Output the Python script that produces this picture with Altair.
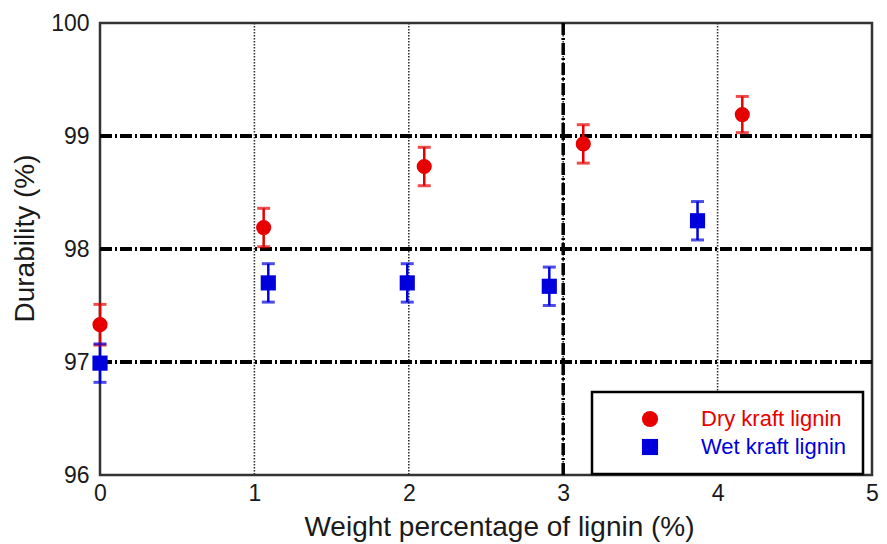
import altair as alt
import pandas as pd

series = ["Dry kraft lignin", "Wet kraft lignin"]
colors = ["#e60000", "#0000dd"]
shapes = ["circle", "square"]

dry_x = [0.0, 1.06, 2.10, 3.13, 4.16]
dry_y = [97.33, 98.19, 98.73, 98.93, 99.19]
dry_err = [0.18, 0.17, 0.17, 0.17, 0.16]

wet_x = [0.0, 1.09, 1.99, 2.91, 3.87]
wet_y = [96.99, 97.70, 97.70, 97.67, 98.25]
wet_err = [0.17, 0.17, 0.17, 0.17, 0.17]

x_ticks = [0, 1, 2, 3, 4, 5]
y_ticks = [96, 97, 98, 99, 100]
h_grid = [97, 98, 99]
v_grid = [1, 2, 3, 4]
heavy_v = [3]

rows = []
for name, xs, ys, es in [(series[0], dry_x, dry_y, dry_err), (series[1], wet_x, wet_y, wet_err)]:
    for x, y, e in zip(xs, ys, es):
        rows.append({"series": name, "x": x, "y": y, "lo": y - e, "hi": y + e})
df = pd.DataFrame(rows)

FONT = "Liberation Sans"
TXT = "#1a1a1a"

xscale = alt.Scale(domain=[0, 5], nice=False, zero=False)
yscale = alt.Scale(domain=[96, 100], nice=False, zero=False)

xaxis = alt.Axis(values=x_ticks, grid=False, ticks=False, domain=False,
                 labelFont=FONT, labelFontSize=23, labelColor=TXT, labelPadding=7,
                 labelFlush=False,
                 title="Weight percentage of lignin (%)", titleFont=FONT,
                 titleFontSize=28, titleFontWeight="normal", titleColor=TXT,
                 titleBaseline="alphabetic", titleX=399, titleY=60)
yaxis = alt.Axis(values=y_ticks, grid=False, ticks=False, domain=False,
                 labelFont=FONT, labelFontSize=23, labelColor=TXT, labelPadding=11,
                 labelFlush=False,
                 title="Durability (%)", titleFont=FONT, titleFontSize=28,
                 titleFontWeight="normal", titleColor=TXT,
                 titleBaseline="alphabetic", titleX=-67, titleY=215)


def X(field):
    return alt.X(f"{field}:Q", scale=xscale, axis=xaxis, title="Weight percentage of lignin (%)")


def Y(field):
    return alt.Y(f"{field}:Q", scale=yscale, axis=yaxis, title="Durability (%)")


vgrid = alt.Chart(pd.DataFrame({"v": v_grid})).mark_rule(
    color="#333333", strokeWidth=1.6, strokeDash=[1.5, 1.5]
).encode(x=X("v"))

vheavy = alt.Chart(pd.DataFrame({"v": heavy_v})).mark_rule(
    color="#000000", strokeWidth=3.5, strokeDash=[12, 3, 2, 3]
).encode(x=X("v"))

hgrid = alt.Chart(pd.DataFrame({"h": h_grid})).mark_rule(
    color="#000000", strokeWidth=4, strokeDash=[12, 3, 2, 3]
).encode(y=Y("h"))

cscale = alt.Scale(domain=series, range=colors)
sscale = alt.Scale(domain=series, range=shapes)

legend = alt.Legend(
    title=None, orient="none", legendX=492, legendY=369,
    padding=16, fillColor="white", strokeColor="black",
    symbolOffset=31, labelOffset=40, rowPadding=6,
    labelFont=FONT, labelFontSize=22, symbolSize=260, symbolStrokeWidth=0,
    symbolOpacity=1,
    labelColor={"expr": "datum.label == 'Dry kraft lignin' ? '#e60000' : '#0000dd'"},
)


def C():
    return alt.Color("series:N", scale=cscale, legend=legend)


base = alt.Chart(df)

err = base.mark_rule(strokeWidth=2.5).encode(
    x=X("x"), y=Y("lo"), y2="hi:Q", color=C(),
)
cap_lo = base.mark_tick(orient="horizontal", size=13, thickness=3).encode(
    x=X("x"), y=Y("lo"), color=C(),
)
cap_hi = base.mark_tick(orient="horizontal", size=13, thickness=3).encode(
    x=X("x"), y=Y("hi"), color=C(),
)

points = base.mark_point(filled=True, opacity=1, size=230).encode(
    x=X("x"), y=Y("y"),
    color=C(),
    shape=alt.Shape("series:N", scale=sscale, legend=legend),
)

chart = alt.layer(vgrid, vheavy, hgrid, err, cap_lo, cap_hi, points).properties(
    width=772, height=452,
    autosize=alt.AutoSizeParams(type="none"),
    padding={"left": 92, "top": 15, "right": 7, "bottom": 67},
).configure_view(stroke="#333333", strokeWidth=2.5).configure_legend(strokeWidth=2.5)

chart.save("out.html", embed_options={"renderer": "svg", "actions": False})
